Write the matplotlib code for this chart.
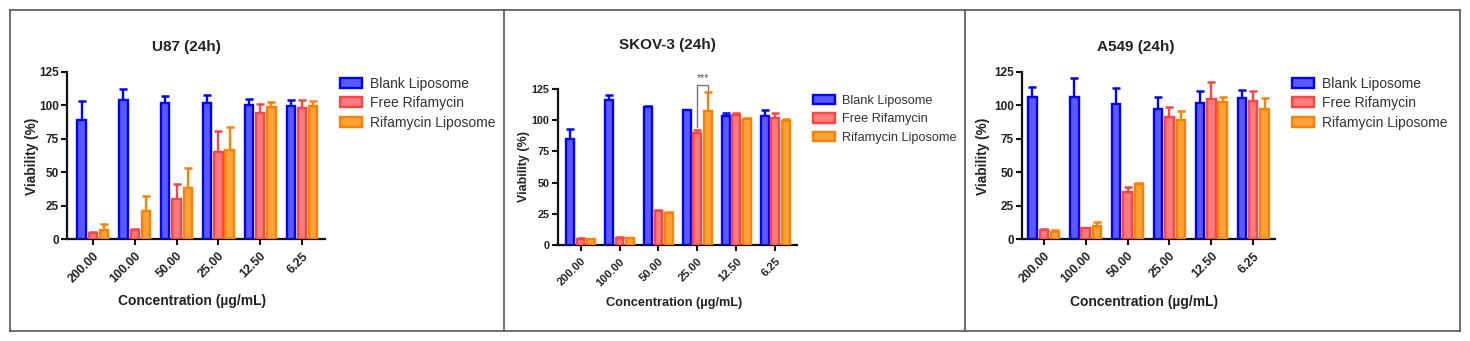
import matplotlib
matplotlib.use("Agg")
import matplotlib.pyplot as plt
import numpy as np
from matplotlib.patches import Patch
from matplotlib.lines import Line2D

plt.rcParams['font.family'] = ['Liberation Sans', 'DejaVu Sans']

concentrations = ["200.00", "100.00", "50.00", "25.00", "12.50", "6.25"]
series_names = ["Blank Liposome", "Free Rifamycin", "Rifamycin Liposome"]

u87_blank = [89, 104, 102, 102, 100, 99.5]
u87_blank_err = [14, 8, 5, 6, 4.5, 4.5]
u87_free = [4.5, 7, 30, 65, 94, 98]
u87_free_err = [0.7, 0.7, 11, 16, 7, 6]
u87_lipo = [6.5, 21, 38.5, 66.5, 98.5, 99.5]
u87_lipo_err = [4.5, 11, 14.5, 17, 4, 3.5]

skov_blank = [85, 116, 110.5, 108, 103, 103]
skov_blank_err = [8, 4.5, 0.8, 0.5, 2.5, 5.5]
skov_free = [5, 6, 27, 89.5, 104, 102]
skov_free_err = [0.5, 0.6, 0.7, 2.5, 2, 4]
skov_lipo = [4.5, 5.5, 26, 107, 101, 99.5]
skov_lipo_err = [0.4, 0.5, 0.5, 15.5, 0.7, 1.5]

a549_blank = [106, 106, 101, 97, 102, 105.5]
a549_blank_err = [7.5, 14.5, 12, 9, 9, 6]
a549_free = [6.5, 8, 35, 91.5, 105, 103]
a549_free_err = [0.8, 0.3, 4, 7.5, 12.5, 8]
a549_lipo = [5.5, 10, 41, 89, 102.5, 97.5]
a549_lipo_err = [1.2, 2.5, 0.6, 7, 4, 8]

edge_colors = ["#0000FF", "#FF4444", "#FF8000"]
face_colors = ["#5A5AFF", "#FF7C7C", "#FFA23C"]

W, H = 1470, 341
fig = plt.figure(figsize=(W / 100, H / 100), dpi=100)


def px(x, y):
    return x / W, 1 - y / H


panels = [
    dict(title="U87 (24h)", data=[(u87_blank, u87_blank_err), (u87_free, u87_free_err), (u87_lipo, u87_lipo_err)],
         box=(67, 325, 72, 239), xlim=(-0.62, 5.55), title_xy=(186, 47), ylab_xy=(32, 156), xlab_xy=(192, 301),
         leg_xy=(340, 77), scale=1.0, leg_space=0.38),
    dict(title="SKOV-3 (24h)", data=[(skov_blank, skov_blank_err), (skov_free, skov_free_err), (skov_lipo, skov_lipo_err)],
         box=(558, 797, 89, 245), xlim=(-0.58, 5.56), title_xy=(667, 45), ylab_xy=(524, 166), xlab_xy=(674, 303),
         leg_xy=(813, 95), scale=0.92, leg_space=0.5),
    dict(title="A549 (24h)", data=[(a549_blank, a549_blank_err), (a549_free, a549_free_err), (a549_lipo, a549_lipo_err)],
         box=(1022, 1275, 72, 239), xlim=(-0.52, 5.52), title_xy=(1136, 47), ylab_xy=(983, 156), xlab_xy=(1144, 302),
         leg_xy=(1292, 77), scale=1.0, leg_space=0.38),
]

offsets = [-0.27, 0.0, 0.27]
bar_w = 0.2
x = np.arange(len(concentrations))
axes = []

for p in panels:
    s_ = p["scale"]
    l, r, t, b = p["box"]
    ax = fig.add_axes([l / W, 1 - b / H, (r - l) / W, (b - t) / H])
    axes.append(ax)
    for k, (vals, errs) in enumerate(p["data"]):
        xs = x + offsets[k]
        ax.errorbar(xs, vals, yerr=[np.zeros(len(vals)), errs], fmt="none",
                    ecolor=edge_colors[k], elinewidth=1.7, capsize=2.6, capthick=1.8, zorder=2)
        ax.bar(xs, vals, width=bar_w, facecolor=face_colors[k], edgecolor=edge_colors[k],
               linewidth=1.7, zorder=3)
    ax.set_xlim(*p["xlim"])
    ax.set_ylim(0, 125)
    ax.set_yticks([0, 25, 50, 75, 100, 125])
    ax.set_xticks(x)
    ax.set_xticklabels(concentrations, rotation=45, ha="right", rotation_mode="anchor",
                       fontsize=8.8 * s_, fontweight="bold", color="#222222")
    for lbl in ax.get_yticklabels():
        lbl.set_fontsize(8.5 * s_)
        lbl.set_fontweight("bold")
        lbl.set_color("#222222")
    ax.tick_params(axis="both", direction="out", length=4, width=1.5, color="#111111", pad=2)
    ax.tick_params(axis="x", pad=4)
    for s in ["top", "right"]:
        ax.spines[s].set_visible(False)
    for s in ["left", "bottom"]:
        ax.spines[s].set_linewidth(1.6)
        ax.spines[s].set_color("#111111")
    ax.patch.set_alpha(0)

    fig.text(*px(*p["title_xy"]), p["title"], ha="center", va="center", fontsize=11,
             fontweight="bold", color="#222222")
    fig.text(*px(*p["ylab_xy"]), "Viability (%)", ha="center", va="center", rotation=90,
             fontsize=9.8 * s_, fontweight="bold", color="#222222")
    fig.text(*px(*p["xlab_xy"]), "Concentration (µg/mL)", ha="center", va="center",
             fontsize=10 * s_, fontweight="bold", color="#222222")

    handles = [Patch(facecolor=face_colors[k], edgecolor=edge_colors[k], linewidth=1.7)
               for k in range(3)]
    fig.legend(handles, series_names, loc="upper left", bbox_to_anchor=px(*p["leg_xy"]),
               frameon=False, fontsize=10 * s_, handlelength=1.6 / s_, handleheight=0.72,
               handletextpad=0.55, labelspacing=p["leg_space"], borderpad=0, borderaxespad=0,
               labelcolor="#333333")

# significance bracket on SKOV-3 at 25 µg/mL
ax2 = axes[1]
gi = 3
xl, xr = gi + offsets[1], gi + offsets[2]
yl = skov_free[gi] + skov_free_err[gi] + 2.5
yr = skov_lipo[gi] + skov_lipo_err[gi] + 2
ytop = max(yl, yr) + 4
ax2.plot([xl, xl, xr, xr], [yl, ytop, ytop, yr], color="#777777", lw=1.0, clip_on=False, zorder=4)
ax2.text((xl + xr) / 2, ytop + 1.2, "***", ha="center", va="bottom", fontsize=7.5, color="#555555")

# outer frame and panel dividers
frame_kw = dict(color="#555555", lw=1.2, transform=fig.transFigure)
for xs_, ys_ in [((10, 1460), (10, 10)), ((10, 1460), (331, 331)), ((10, 10), (10, 331)),
                 ((1460, 1460), (10, 331)), ((504, 504), (10, 331)), ((965, 965), (10, 331))]:
    fig.add_artist(Line2D([v / W for v in xs_], [1 - v / H for v in ys_], **frame_kw))

fig.savefig("out.png", dpi=100)
